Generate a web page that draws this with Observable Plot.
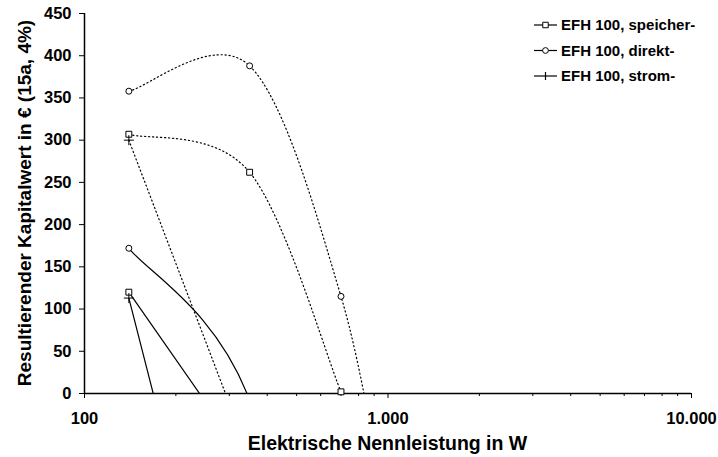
<!DOCTYPE html>
<html>
<head>
<meta charset="utf-8">
<script src="https://cdn.jsdelivr.net/npm/d3@7"></script>
<script src="https://cdn.jsdelivr.net/npm/@observablehq/plot@0.6"></script>
<style>
  html, body { margin: 0; padding: 0; background: #fff; }
  #chart { width: 718px; height: 457px; }
  #chart svg text { font-weight: bold; }
</style>
</head>
<body>
<div id="chart"></div>
<script>
// ---- data (values below 0 lie outside the visible range) ----
const leistungW = [140, 350, 700, 1000];          // elektrische Nennleistung in W
const seriesNames = ["EFH 100, speicher-", "EFH 100, direkt-", "EFH 100, strom-"];
const symbols = ["square", "circle", "plus"];
// dotted variant
const speicherDotted = [307, 262, 2];
const direktDotted   = [358, 388, 115, -160];
const stromDotted    = [300, -75];
// solid variant
const speicherSolid  = [120, -85];
const direktSolid    = [172, -8, -500];
const stromSolid     = [113, -447];

const yTicks = [0, 50, 100, 150, 200, 250, 300, 350, 400, 450];
const xMajor = [100, 1000, 10000];
const xMinor = [200, 300, 400, 500, 600, 700, 800, 900, 2000, 3000, 4000, 5000, 6000, 7000, 8000, 9000];
const xTitle = "Elektrische Nennleistung in W";
const yTitle = "Resultierender Kapitalwert in € (15a, 4%)";

// ---- build rows ----
function rows(name, variant, values) {
  return values.map((v, i) => ({name, variant, x: leistungW[i], y: v}));
}
const data = [
  ...rows(seriesNames[0], "dotted", speicherDotted),
  ...rows(seriesNames[1], "dotted", direktDotted),
  ...rows(seriesNames[2], "dotted", stromDotted),
  ...rows(seriesNames[0], "solid", speicherSolid),
  ...rows(seriesNames[1], "solid", direktSolid),
  ...rows(seriesNames[2], "solid", stromSolid)
];
const dotted = data.filter(d => d.variant === "dotted");
const solid = data.filter(d => d.variant === "solid");
const visible = data.filter(d => d.y >= 0);
const fmt = d => d3.format(",")(d).replace(/,/g, ".");
const font = "'Liberation Sans', Arial, sans-serif";

// spreadsheet-style smoothed line (Bezier segments, tangents (p[i+1]-p[i-1])/6, limited to half a segment)
function smoothCurve(context) {
  let pts = [];
  const dist = (a, b) => Math.hypot(b[0] - a[0], b[1] - a[1]);
  return {
    areaStart() {}, areaEnd() {},
    lineStart() { pts = []; },
    point(x, y) { pts.push([+x, +y]); },
    lineEnd() {
      const n = pts.length;
      if (!n) return;
      context.moveTo(pts[0][0], pts[0][1]);
      if (n === 2) { context.lineTo(pts[1][0], pts[1][1]); return; }
      for (let i = 0; i < n - 1; i++) {
        const p0 = pts[i - 1] || pts[i], p1 = pts[i], p2 = pts[i + 1], p3 = pts[i + 2] || pts[i + 1];
        const d12 = dist(p1, p2), d02 = dist(p0, p2), d13 = dist(p1, p3);
        let f1 = 1 / 6, f2 = 1 / 6;
        if (d02 > 0 && d02 / 6 > d12 / 2) f1 = d12 / (2 * d02);
        if (d13 > 0 && d13 / 6 > d12 / 2) f2 = d12 / (2 * d13);
        context.bezierCurveTo(
          p1[0] + f1 * (p2[0] - p0[0]), p1[1] + f1 * (p2[1] - p0[1]),
          p2[0] - f2 * (p3[0] - p1[0]), p2[1] - f2 * (p3[1] - p1[1]),
          p2[0], p2[1]);
      }
    }
  };
}

const plot = Plot.plot({
  width: 718,
  height: 457,
  marginLeft: 84,
  marginRight: 27,
  marginTop: 13,
  marginBottom: 64,
  style: {fontFamily: font, color: "#000", background: "#fff"},
  x: {type: "log", domain: [100, 10000]},
  y: {domain: [0, 450]},
  symbol: {domain: seriesNames, range: symbols},
  marks: [
    Plot.line(dotted, {x: "x", y: "y", z: "name", curve: smoothCurve, clip: true,
      stroke: "#000", strokeWidth: 1.2, strokeDasharray: "1.2,2.8"}),
    Plot.line(solid, {x: "x", y: "y", z: "name", curve: smoothCurve, clip: true,
      stroke: "#000", strokeWidth: 1.2}),
    Plot.ruleX([100], {stroke: "#000", strokeWidth: 1.5}),
    Plot.ruleY([0], {stroke: "#000", strokeWidth: 1.5}),
    Plot.axisY({ticks: yTicks, tickSize: 5, tickPadding: 8, label: null, tickFormat: d => d,
      fontSize: 16.5, fontWeight: "bold"}),
    Plot.axisX({ticks: xMinor, tickSize: 3, tickFormat: () => "", label: null}),
    Plot.axisX({ticks: xMajor, tickSize: 5, tickPadding: 14, tickFormat: fmt, label: null,
      fontSize: 16.5, fontWeight: "bold"}),
    Plot.dot(visible, {x: "x", y: "y", symbol: "name", r: d => d.name === seriesNames[1] ? 3.5 : 4.3,
      stroke: "#000", fill: "#fff", strokeWidth: 1})
  ]
});

document.getElementById("chart").appendChild(plot);

// ---- titles and legend ----
const svg = d3.select(plot);
svg.append("text")
  .attr("x", (84 + 691) / 2).attr("y", 450)
  .attr("text-anchor", "middle")
  .style("font-family", font).style("font-weight", "bold").style("font-size", "19.5px")
  .text(xTitle);
svg.append("text")
  .attr("transform", "translate(31,203) rotate(-90)")
  .attr("text-anchor", "middle")
  .style("font-family", font).style("font-weight", "bold").style("font-size", "19px")
  .text(yTitle);

const legend = svg.append("g").attr("transform", "translate(534,25)");
const symGen = {
  square: d3.symbol(d3.symbolSquare, 30),
  circle: d3.symbol(d3.symbolCircle, 26)
};
seriesNames.forEach((name, i) => {
  const g = legend.append("g").attr("transform", `translate(0,${i * 25.5})`);
  g.append("line").attr("x1", 0).attr("x2", 23).attr("y1", 0).attr("y2", 0)
    .attr("stroke", "#000").attr("stroke-width", 1.2);
  if (symbols[i] === "plus") {
    g.append("line").attr("x1", 11.5).attr("x2", 11.5).attr("y1", -4).attr("y2", 4)
      .attr("stroke", "#000").attr("stroke-width", 1.2);
  } else {
    g.append("path").attr("transform", "translate(11.5,0)").attr("d", symGen[symbols[i]]())
      .attr("fill", "#fff").attr("stroke", "#000").attr("stroke-width", 1);
  }
  g.append("text").attr("x", 27).attr("y", 0).attr("dy", "0.36em")
    .attr("text-anchor", "start")
    .style("font-family", font).style("font-weight", "bold").style("font-size", "15px")
    .text(name);
});
</script>
</body>
</html>
